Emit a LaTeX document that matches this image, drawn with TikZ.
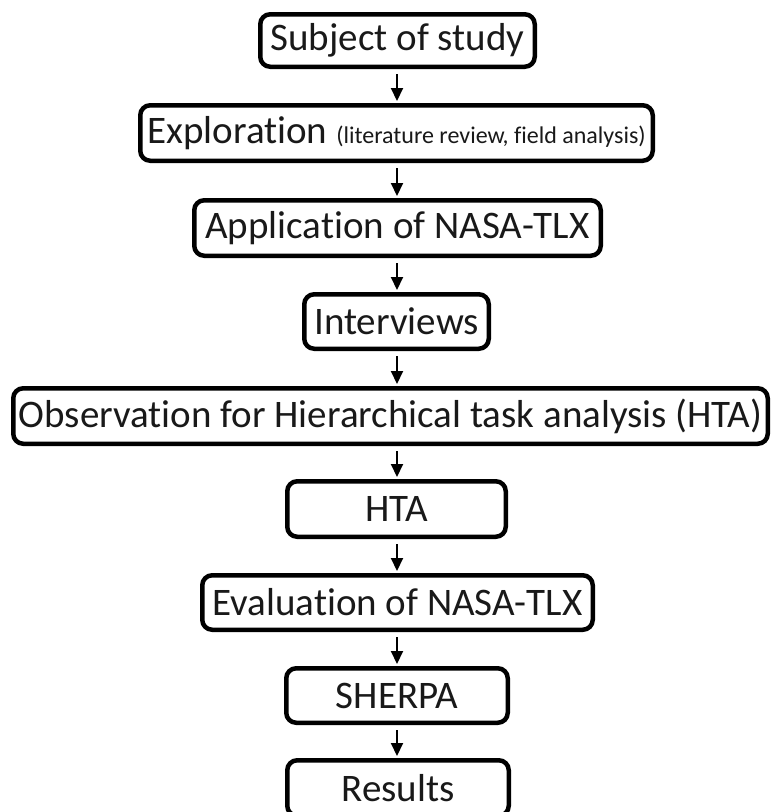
\documentclass[tikz,border=0pt]{standalone}
\usepackage{fontspec}
\setmainfont{Carlito}[Ligatures={NoCommon}]
\usetikzlibrary{arrows.meta}
\tikzset{
  box/.style={draw=black, line width=4.5pt, rounded corners=10pt, inner sep=0pt,
    fill=white, text=black!90, font=\fontsize{39}{44}\selectfont, align=center},
  flow/.style={line width=2pt, -{Triangle[width=12pt,length=13pt]}},
}
\begin{document}
\begin{tikzpicture}[x=1pt,y=1pt]
\useasboundingbox (0,0) rectangle (772,-812);
\node[box, minimum width=274.5pt, minimum height=52.5pt] (subj) at (397.5,-40.5) {Subject of study};
\node[box, minimum width=512.5pt, minimum height=55.5pt] (expl) at (396.5,-133) {Exploration {\fontsize{24}{28}\selectfont (literature review, field analysis)}};
\node[box, minimum width=406.5pt, minimum height=55.5pt] (appl) at (397.5,-228) {Application of NASA-TLX};
\node[box, minimum width=184.5pt, minimum height=54.5pt] (intv) at (396.5,-321.5) {Interviews};
\node[box, minimum width=754.5pt, minimum height=55.5pt] (obs) at (390.5,-416) {Observation for Hierarchical task analysis (HTA)};
\node[box, minimum width=218.5pt, minimum height=55.5pt] (hta) at (396.5,-509) {HTA};
\node[box, minimum width=390.5pt, minimum height=54.5pt] (eval) at (397.5,-602.5) {Evaluation of NASA-TLX};
\node[box, minimum width=221.5pt, minimum height=54.5pt] (sherpa) at (397,-695.5) {SHERPA};
\node[box, minimum width=221.5pt, minimum height=55.5pt] (res) at (398,-788) {Results};
\foreach \a/\b in {subj/expl, expl/appl, appl/intv, intv/obs, obs/hta, hta/eval, eval/sherpa, sherpa/res}{
  \draw[flow] ([yshift=-5pt]\a.south -| 397,0) -- ([yshift=2pt]\b.north -| 397,0);
}
\end{tikzpicture}
\end{document}
